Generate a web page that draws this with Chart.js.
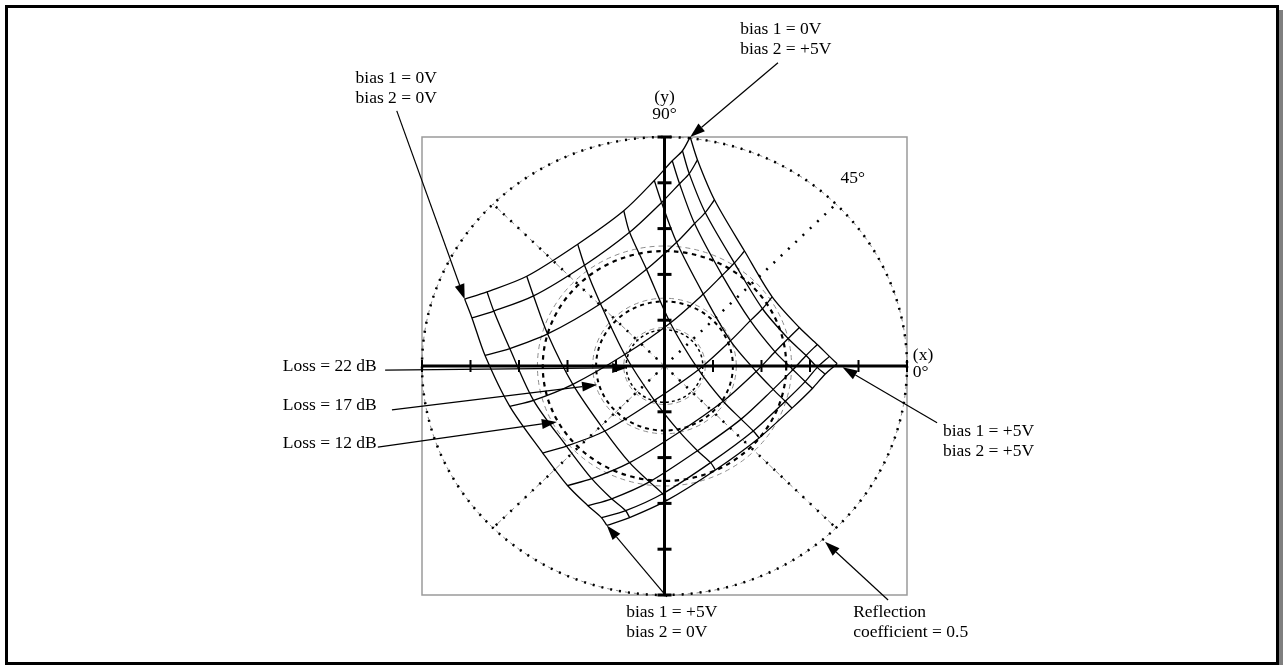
<!DOCTYPE html>
<html>
<head>
<meta charset="utf-8">
<title>Reflection coefficient vs bias</title>
<script src="https://cdn.jsdelivr.net/npm/chart.js@4.4.1/dist/chart.umd.min.js"></script>
<style>
  html, body { margin: 0; padding: 0; background: #fff; overflow: hidden; }
  canvas { display: block; }
</style>
</head>
<body>
<canvas id="chart" width="1283" height="665"></canvas>
<script>
// Reflection coefficient (real part / imaginary part) on a 9 x 9 bias grid.
// Rows: bias 1 from 0V to +5V, columns: bias 2 from 0V to +5V.
const meshRe = [
  [-0.412, -0.366, -0.284, -0.179, -0.084, -0.021, 0.016, 0.037, 0.053],
  [-0.397, -0.352, -0.270, -0.165, -0.072, -0.006, 0.031, 0.051, 0.068],
  [-0.370, -0.319, -0.241, -0.132, -0.037, 0.025, 0.062, 0.084, 0.103],
  [-0.319, -0.270, -0.189, -0.082, 0.012, 0.080, 0.119, 0.144, 0.165],
  [-0.251, -0.202, -0.123, -0.021, 0.070, 0.136, 0.177, 0.202, 0.222],
  [-0.200, -0.150, -0.072, 0.031, 0.121, 0.189, 0.228, 0.255, 0.278],
  [-0.158, -0.109, -0.031, 0.068, 0.158, 0.224, 0.265, 0.292, 0.315],
  [-0.130, -0.080, -0.004, 0.095, 0.183, 0.249, 0.290, 0.315, 0.340],
  [-0.119, -0.072, 0.004, 0.105, 0.195, 0.263, 0.305, 0.331, 0.356]
];
const meshIm = [
  [0.146, 0.162, 0.196, 0.266, 0.339, 0.405, 0.448, 0.470, 0.500],
  [0.105, 0.120, 0.153, 0.220, 0.292, 0.357, 0.398, 0.420, 0.450],
  [0.023, 0.038, 0.070, 0.136, 0.211, 0.270, 0.311, 0.335, 0.363],
  [-0.088, -0.075, -0.040, 0.025, 0.094, 0.157, 0.198, 0.225, 0.251],
  [-0.190, -0.175, -0.142, -0.075, -0.008, 0.055, 0.099, 0.125, 0.151],
  [-0.261, -0.246, -0.211, -0.144, -0.077, -0.012, 0.031, 0.060, 0.084],
  [-0.305, -0.290, -0.253, -0.185, -0.116, -0.051, -0.008, 0.023, 0.047],
  [-0.331, -0.316, -0.279, -0.211, -0.142, -0.077, -0.034, -0.003, 0.021],
  [-0.348, -0.331, -0.294, -0.227, -0.157, -0.092, -0.049, -0.018, 0.005]
];

// |reflection coefficient| circles for 6, 12, 17 and 22 dB loss
const lossCircles = [0.5, 0.251, 0.141, 0.079];
// faint grey circles of the analyser grid
const greyCircles = [0.5, 0.262, 0.148, 0.084];
const spokeAngles = [45, 135, 225, 315];
const axisTicks = [-0.5, -0.4, -0.3, -0.2, -0.1, 0.1, 0.2, 0.3, 0.4, 0.5];

// dash patterns for the black circles, outer to inner
const circleStyles = [
  { width: 2.5, dash: [2, 7] },
  { width: 2.2, dash: [4.5, 4.5] },
  { width: 2, dash: [4, 4] },
  { width: 1.5, dash: [3, 3] }
];

const last = meshRe.length - 1;
const corner = (i, j) => [meshRe[i][j], meshIm[i][j]];

// text labels and arrows, placed in data units
const callouts = [
  { lines: ['bias 1 = 0V', 'bias 2 = 0V'], at: [-0.637, 0.627], gap: 20, from: [-0.552, 0.557], to: corner(0, 0) },
  { lines: ['bias 1 = 0V', 'bias 2 = +5V'], at: [0.156, 0.734], gap: 20, from: [0.234, 0.662], to: corner(0, last) },
  { lines: ['bias 1 = +5V', 'bias 2 = +5V'], at: [0.574, -0.142], gap: 20, from: [0.562, -0.124], to: [0.367, -0.003] },
  { lines: ['bias 1 = +5V', 'bias 2 = 0V'], at: [-0.079, -0.539], gap: 20, from: [0.005, -0.504], to: corner(last, 0) },
  { lines: ['Reflection', 'coefficient = 0.5'], at: [0.389, -0.539], gap: 20, from: [0.461, -0.511], to: [0.331, -0.384] },
  { lines: ['Loss = 22 dB'], at: [-0.787, 0.0], gap: 20, from: [-0.576, -0.009], to: [-0.077, -0.004] },
  { lines: ['Loss = 17 dB'], at: [-0.787, -0.087], gap: 20, from: [-0.562, -0.096], to: [-0.139, -0.041] },
  { lines: ['Loss = 12 dB'], at: [-0.787, -0.170], gap: 20, from: [-0.591, -0.177], to: [-0.222, -0.122] },
  { lines: ['(y)', '90°'], at: [0.0, 0.587], gap: 17, center: true },
  { lines: ['(x)', '0°'], at: [0.512, 0.024], gap: 17 },
  { lines: ['45°'], at: [0.388, 0.410], gap: 17, center: true }
];

const meshStyle = {
  showLine: true, borderColor: '#000', borderWidth: 1.3,
  pointRadius: 0, tension: 0.3, clip: false
};
const datasets = [];
// constant bias 1
meshRe.forEach((row, i) => {
  datasets.push({ ...meshStyle, data: row.map((re, j) => ({ x: re, y: meshIm[i][j] })) });
});
// constant bias 2
meshRe[0].forEach((_, j) => {
  datasets.push({ ...meshStyle, data: meshRe.map((row, i) => ({ x: row[j], y: meshIm[i][j] })) });
});

function ellipse(ctx, cx, cy, rx, ry) {
  ctx.beginPath();
  ctx.ellipse(cx, cy, rx, ry, 0, 0, Math.PI * 2);
  ctx.stroke();
}

// polar background: box, circles, spokes
const polarGrid = {
  id: 'polarGrid',
  beforeDatasetsDraw(chart) {
    const { ctx, chartArea: a, scales: { x, y } } = chart;
    const cx = x.getPixelForValue(0), cy = y.getPixelForValue(0);
    ctx.save();
    ctx.strokeStyle = '#9a9a9a';
    ctx.lineWidth = 1.5;
    ctx.strokeRect(a.left, a.top, a.width, a.height);

    // grey dashed circles and spokes
    ctx.strokeStyle = '#8c8c8c';
    ctx.lineWidth = 1;
    ctx.setLineDash([5, 4]);
    greyCircles.forEach(r => {
      ellipse(ctx, cx, cy, x.getPixelForValue(r) - cx, cy - y.getPixelForValue(r));
    });
    spokeAngles.slice(1).forEach(deg => {
      const t = deg * Math.PI / 180;
      ctx.beginPath();
      ctx.moveTo(cx, cy);
      ctx.lineTo(x.getPixelForValue(0.5 * Math.cos(t)), y.getPixelForValue(0.5 * Math.sin(t)));
      ctx.stroke();
    });

    // black dotted / dashed circles
    ctx.strokeStyle = '#000';
    lossCircles.forEach((r, k) => {
      ctx.lineWidth = circleStyles[k].width;
      ctx.setLineDash(circleStyles[k].dash);
      ellipse(ctx, cx, cy, x.getPixelForValue(r) - cx, cy - y.getPixelForValue(r));
    });
    ctx.lineWidth = 2.5;
    ctx.setLineDash([2, 8]);
    spokeAngles.forEach(deg => {
      const t = deg * Math.PI / 180;
      ctx.beginPath();
      ctx.moveTo(cx, cy);
      ctx.lineTo(x.getPixelForValue(lossCircles[0] * Math.cos(t)), y.getPixelForValue(lossCircles[0] * Math.sin(t)));
      ctx.stroke();
    });
    ctx.restore();
  },

  afterDatasetsDraw(chart) {
    const { ctx, scales: { x, y } } = chart;
    const cx = x.getPixelForValue(0), cy = y.getPixelForValue(0);
    ctx.save();
    ctx.strokeStyle = '#000';
    ctx.lineCap = 'butt';

    // axes
    ctx.lineWidth = 3;
    ctx.beginPath();
    ctx.moveTo(x.getPixelForValue(-0.5), cy);
    ctx.lineTo(x.getPixelForValue(0.5), cy);
    ctx.moveTo(cx, y.getPixelForValue(0.5));
    ctx.lineTo(cx, y.getPixelForValue(-0.5));
    ctx.stroke();

    // tick marks
    ctx.lineWidth = 2;
    axisTicks.forEach(t => {
      const px = x.getPixelForValue(t);
      ctx.beginPath();
      ctx.moveTo(px, cy - 6);
      ctx.lineTo(px, cy + 6);
      ctx.stroke();
    });
    ctx.lineWidth = 3;
    axisTicks.forEach(t => {
      const py = y.getPixelForValue(t);
      ctx.beginPath();
      ctx.moveTo(cx - 7, py);
      ctx.lineTo(cx + 7, py);
      ctx.stroke();
    });

    // arrows
    ctx.lineWidth = 1.2;
    ctx.fillStyle = '#000';
    callouts.filter(c => c.from).forEach(c => {
      const x0 = x.getPixelForValue(c.from[0]), y0 = y.getPixelForValue(c.from[1]);
      const x1 = x.getPixelForValue(c.to[0]), y1 = y.getPixelForValue(c.to[1]);
      const ang = Math.atan2(y1 - y0, x1 - x0);
      const len = 15, half = 5;
      const bx = x1 - len * Math.cos(ang), by = y1 - len * Math.sin(ang);
      ctx.beginPath();
      ctx.moveTo(x0, y0);
      ctx.lineTo(bx, by);
      ctx.stroke();
      ctx.beginPath();
      ctx.moveTo(x1, y1);
      ctx.lineTo(bx + half * Math.sin(ang), by - half * Math.cos(ang));
      ctx.lineTo(bx - half * Math.sin(ang), by + half * Math.cos(ang));
      ctx.closePath();
      ctx.fill();
    });

    // labels
    ctx.font = '17.5px "Liberation Serif", "Times New Roman", serif';
    ctx.textBaseline = 'middle';
    callouts.forEach(c => {
      ctx.textAlign = c.center ? 'center' : 'left';
      const px = x.getPixelForValue(c.at[0]), py = y.getPixelForValue(c.at[1]);
      c.lines.forEach((line, k) => ctx.fillText(line, px, py + k * c.gap));
    });
    ctx.restore();
  },

  afterDraw(chart) {
    // page frame with shadow
    const { ctx } = chart;
    ctx.save();
    ctx.strokeStyle = '#000';
    ctx.lineWidth = 3;
    ctx.strokeRect(6.5, 6.5, 1271, 657);
    ctx.fillStyle = '#7f7f7f';
    ctx.fillRect(1279, 10, 4, 655);
    ctx.restore();
  }
};

new Chart(document.getElementById('chart'), {
  type: 'scatter',
  data: { datasets },
  options: {
    responsive: false,
    animation: false,
    events: [],
    layout: { padding: { left: 422, right: 376, top: 137, bottom: 70 } },
    scales: {
      x: { type: 'linear', min: -0.5, max: 0.5, display: false },
      y: { type: 'linear', min: -0.5, max: 0.5, display: false }
    },
    plugins: { legend: { display: false }, tooltip: { enabled: false } }
  },
  plugins: [polarGrid]
});
</script>
</body>
</html>
